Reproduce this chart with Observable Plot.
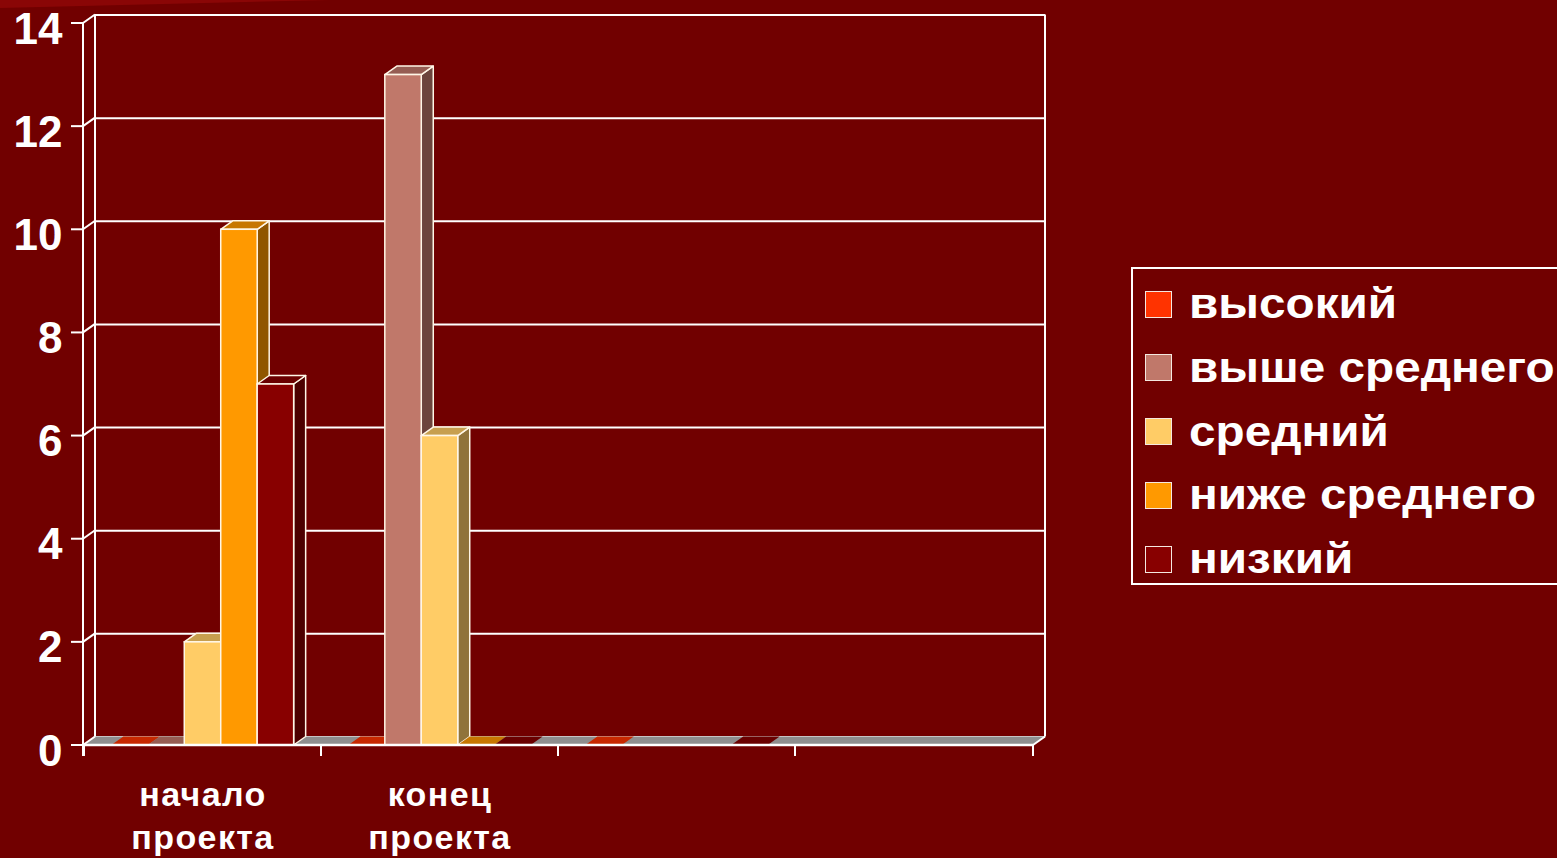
<!DOCTYPE html>
<html>
<head>
<meta charset="utf-8">
<script src="https://cdn.jsdelivr.net/npm/d3@7"></script>
<script src="https://cdn.jsdelivr.net/npm/@observablehq/plot@0.6"></script>
<style>
  html, body { margin: 0; padding: 0; background: #710000; }
  #wrap { position: relative; width: 1557px; height: 858px; overflow: hidden; background: #710000;
          font-family: "Liberation Sans", Arial, sans-serif; }
  #corner { position: absolute; left: 0; top: 0; width: 330px; height: 8px; background: #8a0606;
            clip-path: polygon(0 0, 100% 0, 0 100%); }
  #chart { position: absolute; left: 0; top: 0; }
  #legend { position: absolute; left: 1131px; top: 267px; width: 460px; height: 318px;
            border: 2px solid #ffffff; box-sizing: border-box; }
  .item { position: absolute; left: 12px; height: 64px; display: flex; align-items: center; }
  .sw { width: 27px; height: 27px; border: 1.5px solid #f4e8e0; box-sizing: border-box; margin-right: 17px; }
  .lab { display: inline-block; color: #fff; font-weight: bold; font-size: 42px; line-height: 64px;
         transform: scaleX(1.135); transform-origin: left center; white-space: nowrap; }
</style>
</head>
<body>
<div id="wrap">
  <div id="corner"></div>
  <div id="chart"></div>
  <div id="legend"></div>
</div>
<script>
// ---------- data ----------
const categories = ["начало проекта", "конец проекта", "кат3", "кат4"];
const categoryLabels = ["начало\nпроекта", "конец\nпроекта", "", ""];
const series = ["высокий", "выше среднего", "средний", "ниже среднего", "низкий"];
const seriesColors = ["#ff3300", "#c0786a", "#ffcc66", "#ff9900", "#880000"];
const valuesHigh       = [0, 0, 0, null];
const valuesAboveAvg   = [0, 13, null, null];
const valuesAverage    = [2, 6, null, null];
const valuesBelowAvg   = [10, 0, null, null];
const valuesLow        = [7, 0, 0, null];
const yTicks = [0, 2, 4, 6, 8, 10, 12, 14];

const seriesValues = [valuesHigh, valuesAboveAvg, valuesAverage, valuesBelowAvg, valuesLow];
const rows = [];
categories.forEach((c, ci) => series.forEach((s, si) => {
  const v = seriesValues[si][ci];
  if (v != null) rows.push({category: c, series: s, value: v});
}));

// ---------- 3D scene ----------
const DX = 12, DY = -8.5;
const colorOf = s => seriesColors[series.indexOf(s)];
const shade = (c, k) => d3.color(c).darker(k).formatHex();
const poly = pts => "M" + pts.map(p => p.join(",")).join("L") + "Z";

function scene(index, scales) {
  const x = scales.x, y = scales.y;
  const [r0, r1] = x.range();
  const bw = x.bandwidth();
  const sub = d3.scaleBand().domain(series).range([0, bw]).paddingOuter(0.75).paddingInner(0);
  const w = sub.bandwidth();
  const y0 = y(0), yT = y(d3.max(yTicks));
  const g = d3.create("svg:g");
  // floor
  g.append("path").attr("d", poly([[r0, y0], [r1, y0], [r1 + DX, y0 + DY], [r0 + DX, y0 + DY]]))
    .attr("fill", "#8e8e8e");
  // back wall verticals
  for (const xx of [r0 + DX, r1 + DX]) {
    g.append("line").attr("x1", xx).attr("x2", xx).attr("y1", yT + DY).attr("y2", y0 + DY)
      .attr("stroke", "#fff").attr("stroke-width", 2);
  }
  // bars
  for (const d of rows) {
    const xs = x(d.category) + sub(d.series);
    const yv = y(d.value);
    const c = colorOf(d.series);
    const st = {stroke: "#fff6e6", "stroke-width": 1.5, "stroke-linejoin": "round"};
    const side = g.append("path").attr("d", poly([[xs + w, yv], [xs + w + DX, yv + DY], [xs + w + DX, y0 + DY], [xs + w, y0]]))
      .attr("fill", shade(c, 1.6));
    const top = g.append("path").attr("d", poly([[xs, yv], [xs + w, yv], [xs + w + DX, yv + DY], [xs + DX, yv + DY]]))
      .attr("fill", shade(c, 0.7));
    if (d.value > 0) {
      g.append("rect").attr("x", xs).attr("y", yv).attr("width", w).attr("height", y0 - yv).attr("fill", c);
      for (const [k, v] of Object.entries(st)) { side.attr(k, v); top.attr(k, v); }
      g.append("rect").attr("x", xs).attr("y", yv).attr("width", w).attr("height", y0 - yv)
        .attr("fill", "none").attr("stroke", "#fff6e6").attr("stroke-width", 1.5);
    }
  }
  // front x axis line
  g.append("line").attr("x1", r0).attr("x2", r1).attr("y1", y0).attr("y2", y0)
    .attr("stroke", "#fff").attr("stroke-width", 2.5);
  g.append("line").attr("x1", r1).attr("x2", r1 + DX).attr("y1", y0).attr("y2", y0 + DY)
    .attr("stroke", "#fff").attr("stroke-width", 2);
  // category boundary ticks
  for (const xx of [...categories.map(c => x(c)), r1]) {
    g.append("line").attr("x1", xx).attr("x2", xx).attr("y1", y0).attr("y2", y0 + 11)
      .attr("stroke", "#fff").attr("stroke-width", 2);
  }
  // front y axis line, ticks and connectors
  g.append("line").attr("x1", r0).attr("x2", r0).attr("y1", yT).attr("y2", y0 + 11)
    .attr("stroke", "#fff").attr("stroke-width", 2);
  for (const t of yTicks) {
    const yy = y(t);
    g.append("line").attr("x1", r0 - 12).attr("x2", r0).attr("y1", yy).attr("y2", yy)
      .attr("stroke", "#fff").attr("stroke-width", 2);
    g.append("line").attr("x1", r0).attr("x2", r0 + DX).attr("y1", yy).attr("y2", yy + DY)
      .attr("stroke", "#fff").attr("stroke-width", 2);
  }
  return g.node();
}

const chart = Plot.plot({
  width: 1100,
  height: 858,
  marginLeft: 83,
  marginRight: 67,
  marginTop: 23,
  marginBottom: 113,
  style: {background: "transparent", color: "#fff", fontFamily: "'Liberation Sans', Arial, sans-serif", overflow: "visible"},
  x: {type: "band", domain: categories, padding: 0},
  y: {domain: [0, 14]},
  marks: [
    Plot.gridY(yTicks, {dx: DX, dy: DY, stroke: "#fff", strokeOpacity: 1, strokeWidth: 2}),
    scene,
    Plot.axisY({ticks: yTicks, tickSize: 0, tickPadding: 21, dy: 6, fontSize: 44, fontWeight: "bold", fill: "#fff", label: null}),
    Plot.axisX({tickSize: 0, tickPadding: 30, fontSize: 34, fontWeight: "bold", fill: "#fff", lineHeight: 1.26,
                tickFormat: d => categoryLabels[categories.indexOf(d)], label: null})
  ]
});
d3.select(chart).selectAll("g[aria-label='x-axis tick label'] text").style("letter-spacing", "1.4px");
document.getElementById("chart").appendChild(chart);

// ---------- legend ----------
const legend = document.getElementById("legend");
series.forEach((s, i) => {
  const it = document.createElement("div");
  it.className = "item";
  it.style.top = (35 - 32 + i * 63.75) + "px";
  const sw = document.createElement("div");
  sw.className = "sw";
  sw.style.background = seriesColors[i];
  const lab = document.createElement("span");
  lab.className = "lab";
  lab.textContent = s;
  it.appendChild(sw); it.appendChild(lab);
  legend.appendChild(it);
});
</script>
</body>
</html>
